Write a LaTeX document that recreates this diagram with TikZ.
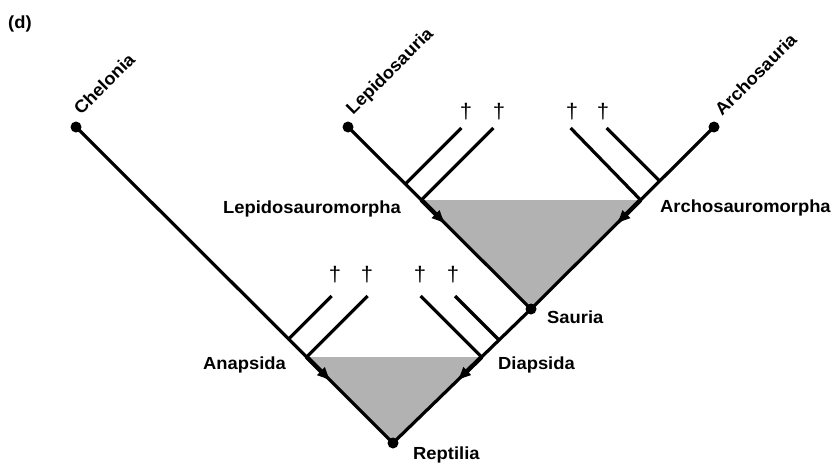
\documentclass[tikz,border=0pt]{standalone}
\usepackage{fontspec}
\setmainfont{Liberation Sans}[FakeStretch=1.05]
\usetikzlibrary{arrows.meta,calc}
\begin{document}
\begin{tikzpicture}[x=1pt,y=-1pt,
  branch/.style={line width=3.2pt},
  lab/.style={font=\bfseries\fontsize{17.5}{19}\selectfont, inner sep=0pt, anchor=base west},
  dag/.style={font=\fontsize{21}{23}\selectfont, inner sep=0pt},
  tipdot/.style={circle, fill=black, inner sep=0pt, minimum size=11pt},
  arr/.style={line width=4.4pt, -{Latex[length=15pt,width=12pt]}},
  shade/.style={fill=black!30}]
\useasboundingbox (0,0) rectangle (832,463);

% terminal / ancestral points
\coordinate (rep) at (393,443);
\coordinate (sau) at (531,309);
\coordinate (che) at (76,127);
\coordinate (lep) at (348,127);
\coordinate (arc) at (714,127);

% branch points
\coordinate (anL) at (306.7,357);
\coordinate (diR) at (481.6,357);
\coordinate (lmL) at (421.4,200);
\coordinate (amR) at (640.6,200);
\coordinate (b1) at (288.7,339);
\coordinate (b4) at (499,340);
\coordinate (b5) at (405.3,184);
\coordinate (b8) at (659.7,181);

% extinct branch ends
\coordinate (e1) at (331.7,296);
\coordinate (e2) at (367.7,296);
\coordinate (e3) at (420.6,296);
\coordinate (e4) at (455,296);
\coordinate (e5) at (461.3,128);
\coordinate (e6) at (493.4,128);
\coordinate (e7) at (570.6,128);
\coordinate (e8) at (606.7,128);

% shaded triangles
\fill[shade] (anL) -- (diR) -- (rep) -- cycle;
\fill[shade] (lmL) -- (amR) -- (sau) -- cycle;

% main lines
\draw[branch] (che) -- (rep) -- (sau);
\draw[branch] (lep) -- (sau) -- (arc);

% extinct side branches
\draw[branch] (b1) -- (e1);
\draw[branch] (anL) -- (e2);
\draw[branch] (diR) -- (e3);
\draw[branch] (b4) -- (e4);
\draw[branch] (b5) -- (e5);
\draw[branch] (lmL) -- (e6);
\draw[branch] (amR) -- (e7);
\draw[branch] (b8) -- (e8);

% arrows
\draw[arr] (anL) -- ($(anL)!35pt!(rep)$);
\draw[arr] (diR) -- ($(diR)!35pt!(rep)$);
\draw[arr] (lmL) -- ($(lmL)!35pt!(sau)$);
\draw[arr] (amR) -- ($(amR)!35pt!(sau)$);

% dots
\node[tipdot] (repdot) at (rep) {};
\node[tipdot] (saudot) at (sau) {};
\node[tipdot] (chedot) at (che) {};
\node[tipdot] (lepdot) at (lep) {};
\node[tipdot] (arcdot) at (arc) {};

% daggers
\node[dag] (d1) at (335,275) {†};
\node[dag] (d2) at (367,275) {†};
\node[dag] (d3) at (420,275) {†};
\node[dag] (d4) at (453,275) {†};
\node[dag] (d5) at (466,112) {†};
\node[dag] (d6) at (499,112) {†};
\node[dag] (d7) at (572,112) {†};
\node[dag] (d8) at (603,112) {†};

% labels
\node[lab] (panel) at (8,28) {(d)};
\node[lab, rotate=45] (tche) at (81,116) {Chelonia};
\node[lab, rotate=45] (tlep) at (353,116) {Lepidosauria};
\node[lab, rotate=45] (tarc) at (722,117) {Archosauria};
\node[lab] (tlm) at (223,213) {Lepidosauromorpha};
\node[lab] (tam) at (660,212) {Archosauromorpha};
\node[lab] (tsau) at (547,323) {Sauria};
\node[lab] (tana) at (203,369) {Anapsida};
\node[lab] (tdia) at (498,369) {Diapsida};
\node[lab] (trep) at (413,459) {Reptilia};
\end{tikzpicture}
\end{document}
